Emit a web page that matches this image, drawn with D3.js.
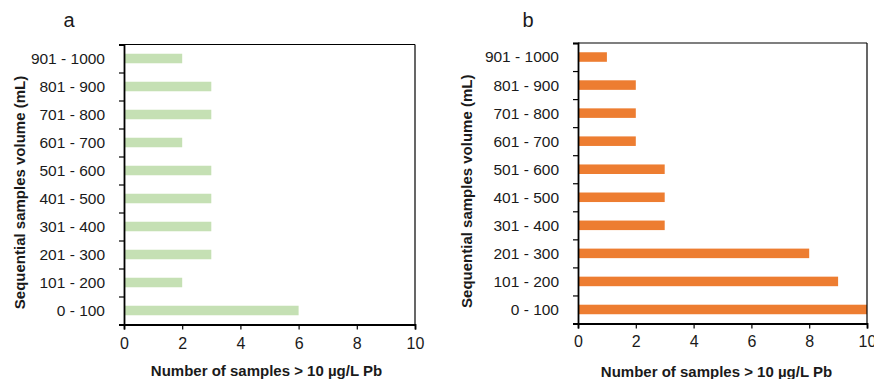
<!DOCTYPE html>
<html>
<head>
<meta charset="utf-8">
<script src="https://cdn.jsdelivr.net/npm/d3@7"></script>
<style>
  body { margin: 0; background: #fff; }
  text { font-family: "Liberation Sans", Arial, sans-serif; fill: #1a1a1a; }
</style>
</head>
<body>
<div id="chart"></div>
<script>
const categories = ["0 - 100", "101 - 200", "201 - 300", "301 - 400", "401 - 500",
  "501 - 600", "601 - 700", "701 - 800", "801 - 900", "901 - 1000"];
const valuesA = [6, 2, 3, 3, 3, 3, 2, 3, 3, 2];
const valuesB = [10, 9, 8, 3, 3, 3, 2, 2, 2, 1];
const xTicks = [0, 2, 4, 6, 8, 10];
const xTitle = "Number of samples > 10 µg/L Pb";
const yTitle = "Sequential samples volume (mL)";

const svg = d3.select("#chart").append("svg")
  .attr("width", 874).attr("height", 379);

function drawPanel(opt) {
  const { left, right, top, bottom, values, color, letter } = opt;
  const g = svg.append("g");

  const x = d3.scaleLinear().domain([0, 10]).range([left, right]);
  const y = d3.scaleBand().domain(categories).range([bottom, top]).paddingInner(0.66).paddingOuter(0.33);
  const yEdge = d3.scaleLinear().domain([0, categories.length]).range([bottom, top]);

  // bars
  g.selectAll("rect.bar").data(values).join("rect")
    .attr("class", "bar")
    .attr("x", x(0))
    .attr("y", (d, i) => y(categories[i]))
    .attr("width", d => x(d) - x(0))
    .attr("height", y.bandwidth())
    .attr("fill", color);

  // frame top & right
  g.append("line").attr("x1", x(0)).attr("x2", x(10)).attr("y1", top).attr("y2", top)
    .attr("stroke", "#000").attr("stroke-width", 1.2);
  g.append("line").attr("x1", x(10)).attr("x2", x(10)).attr("y1", top).attr("y2", bottom)
    .attr("stroke", "#000").attr("stroke-width", 1.2);

  // x axis
  const xAxis = g.append("g").attr("transform", `translate(0,${bottom})`)
    .call(d3.axisBottom(x).tickValues(xTicks).tickSize(5).tickPadding(opt.xPad));
  xAxis.select(".domain").attr("stroke", "#000").attr("stroke-width", 1.8);
  xAxis.selectAll(".tick line").attr("stroke", "#000").attr("stroke-width", 1.2);
  xAxis.selectAll(".tick text").style("font-size", "16px")
    .style("font-family", "'Liberation Sans', Arial, sans-serif").attr("fill", "#1a1a1a");

  // y axis: ticks at category boundaries, labels centred in bands
  const yAxis = g.append("g").attr("transform", `translate(${left},0)`)
    .call(d3.axisLeft(yEdge).tickValues(d3.range(categories.length + 1)).tickSize(5).tickFormat(""));
  yAxis.select(".domain").attr("stroke", "#000").attr("stroke-width", 1.8);
  yAxis.selectAll(".tick line").attr("stroke", "#000").attr("stroke-width", 1.2);

  g.selectAll("text.ylab").data(categories).join("text")
    .attr("class", "ylab")
    .attr("x", opt.labelRight)
    .attr("y", d => y(d) + y.bandwidth() / 2)
    .attr("dy", "0.35em")
    .attr("text-anchor", "end")
    .style("font-size", "15.5px")
    .text(d => d);

  // titles
  g.append("text")
    .attr("x", (left + right) / 2 + opt.xTitleShift)
    .attr("y", opt.xTitleY)
    .attr("text-anchor", "middle")
    .style("font-size", "15px").style("font-weight", "bold")
    .text(xTitle);

  g.append("text")
    .attr("transform", `translate(${opt.yTitleX},${(top + bottom) / 2 + 8}) rotate(-90)`)
    .attr("text-anchor", "middle")
    .attr("dy", "0.35em")
    .style("font-size", "15px").style("font-weight", "bold")
    .text(yTitle);

  g.append("text")
    .attr("x", opt.letterX).attr("y", 27)
    .attr("text-anchor", "middle")
    .style("font-size", "20px")
    .text(letter);
}

drawPanel({
  left: 124, right: 415, top: 44.5, bottom: 324.5,
  values: valuesA, color: "#c5e0b4", letter: "a", xPad: 8,
  labelRight: 105, xTitleShift: -3, xTitleY: 376, yTitleX: 20, letterX: 69
});

drawPanel({
  left: 578, right: 867, top: 43, bottom: 323.5,
  values: valuesB, color: "#ed7d31", letter: "b", xPad: 7,
  labelRight: 559, xTitleShift: -6, xTitleY: 377, yTitleX: 467, letterX: 528
});
</script>
</body>
</html>
